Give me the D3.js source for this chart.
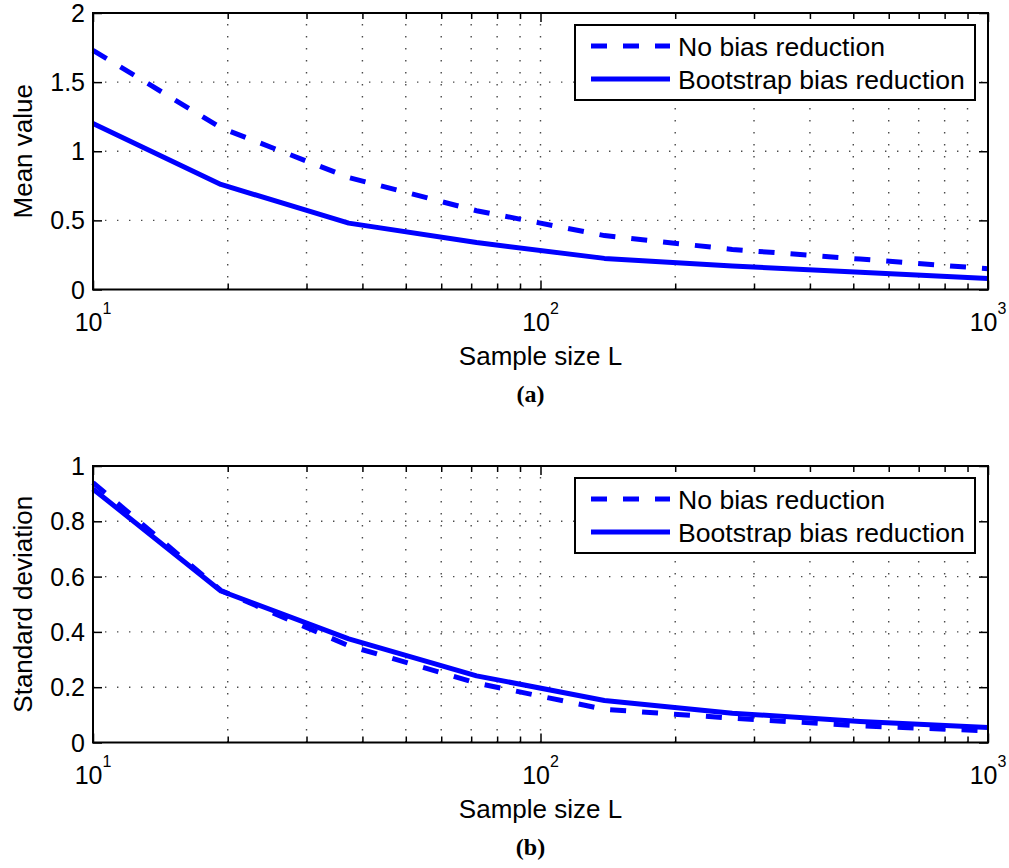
<!DOCTYPE html>
<html>
<head>
<meta charset="utf-8">
<script src="https://cdn.jsdelivr.net/npm/d3@7"></script>
<style>
  html, body { margin: 0; padding: 0; background: #fff; }
  svg { display: block; }
  text { font-family: "Liberation Sans", Arial, Helvetica, sans-serif; fill: #000; }
</style>
</head>
<body>
<svg id="fig" width="1009" height="868"></svg>
<script>
// Sample sizes L (8 log-spaced points between 10 and 1000)
const sampleSizes = [10, 19.31, 37.28, 71.97, 138.95, 268.27, 517.95, 1000];

// Panel (a): mean value of the estimate
const meanNoBias = [1.73, 1.17, 0.81, 0.57, 0.39, 0.29, 0.22, 0.15];
const meanBootstrap = [1.20, 0.76, 0.48, 0.34, 0.225, 0.17, 0.125, 0.08];

// Panel (b): standard deviation of the estimate
const stdNoBias = [0.94, 0.55, 0.35, 0.215, 0.12, 0.088, 0.06, 0.042];
const stdBootstrap = [0.917, 0.548, 0.375, 0.241, 0.152, 0.106, 0.076, 0.054];

// Axis ticks
const xMajorTicks = [10, 100, 1000];
const xMinorTicks = [20, 30, 40, 50, 60, 70, 80, 90, 200, 300, 400, 500, 600, 700, 800, 900];
const meanTicks = [0, 0.5, 1, 1.5, 2];
const meanTickLabels = ["0", "0.5", "1", "1.5", "2"];
const stdTicks = [0, 0.2, 0.4, 0.6, 0.8, 1];
const stdTickLabels = ["0", "0.2", "0.4", "0.6", "0.8", "1"];

const seriesNames = ["No bias reduction", "Bootstrap bias reduction"];
const xLabel = "Sample size L";

const svg = d3.select("#fig");
svg.append("rect").attr("width", 1009).attr("height", 868).attr("fill", "#fff");

const W = 895, H = 276.5;
const BLUE = "#0000ff";
const DASH = "16,16";

function drawPanel(cfg) {
  const g = svg.append("g").attr("transform", `translate(${cfg.left},${cfg.top})`);
  const x = d3.scaleLog().domain([10, 1000]).range([0, W]);
  const y = d3.scaleLinear().domain(cfg.yDomain).range([H, 0]);

  // dotted grid
  const grid = g.append("g").attr("stroke", "#4a4a4a").attr("stroke-width", 1.4)
    .attr("stroke-dasharray", "1.4,10.6").attr("fill", "none");
  grid.selectAll("line.gx").data(xMinorTicks.concat([100])).join("line")
    .attr("x1", d => x(d)).attr("x2", d => x(d)).attr("y1", H).attr("y2", 0);
  grid.selectAll("line.gy").data(cfg.yTicks.slice(1, -1)).join("line")
    .attr("x1", 0).attr("x2", W).attr("y1", d => y(d)).attr("y2", d => y(d));

  // curves
  const line = d3.line().x(d => x(d[0])).y(d => y(d[1]));
  const pts = vals => sampleSizes.map((s, i) => [s, vals[i]]);
  g.append("path").attr("d", line(pts(cfg.dashed))).attr("fill", "none")
    .attr("stroke", BLUE).attr("stroke-width", 5).attr("stroke-dasharray", DASH);
  g.append("path").attr("d", line(pts(cfg.solid))).attr("fill", "none")
    .attr("stroke", BLUE).attr("stroke-width", 5).attr("stroke-linejoin", "round");

  // inward ticks on all four sides
  const tickStyle = sel => {
    sel.select(".domain").remove();
    sel.selectAll(".tick line").attr("stroke", "#000").attr("stroke-width", 1.5);
    sel.selectAll(".tick text").remove();
  };
  g.append("g").attr("transform", `translate(0,${H})`)
    .call(d3.axisBottom(x).tickValues(xMajorTicks).tickSize(-9)).call(tickStyle);
  g.append("g").attr("transform", `translate(0,${H})`)
    .call(d3.axisBottom(x).tickValues(xMinorTicks).tickSize(-6)).call(tickStyle);
  g.append("g").call(d3.axisTop(x).tickValues(xMajorTicks).tickSize(-9)).call(tickStyle);
  g.append("g").call(d3.axisTop(x).tickValues(xMinorTicks).tickSize(-6)).call(tickStyle);
  g.append("g").call(d3.axisLeft(y).tickValues(cfg.yTicks).tickSize(-9)).call(tickStyle);
  g.append("g").attr("transform", `translate(${W},0)`)
    .call(d3.axisRight(y).tickValues(cfg.yTicks).tickSize(-9)).call(tickStyle);

  // box
  g.append("rect").attr("width", W).attr("height", H).attr("fill", "none")
    .attr("stroke", "#000").attr("stroke-width", 2);

  // y tick labels
  g.selectAll("text.yt").data(cfg.yTicks).join("text")
    .attr("x", -8).attr("y", d => y(d) + 9).attr("text-anchor", "end")
    .attr("font-size", 25).text((d, i) => cfg.yTickLabels[i]);

  // x tick labels: 10 with exponent
  const xt = g.selectAll("text.xt").data(xMajorTicks).join("text")
    .attr("x", d => x(d)).attr("y", H + 41).attr("text-anchor", "middle").attr("font-size", 25);
  xt.append("tspan").text("10");
  xt.append("tspan").attr("dy", -17).attr("font-size", 16).text(d => Math.round(Math.log10(d)));

  // axis titles
  g.append("text").attr("x", W / 2).attr("y", H + 75).attr("text-anchor", "middle")
    .attr("font-size", 26).text(xLabel);
  g.append("text").attr("transform", `translate(${-61},${H / 2}) rotate(-90)`)
    .attr("text-anchor", "middle").attr("font-size", 26).text(cfg.yLabel);

  // legend
  const lg = g.append("g").attr("transform", `translate(${W - 413},12)`);
  lg.append("rect").attr("width", 400).attr("height", 75).attr("fill", "#fff")
    .attr("stroke", "#000").attr("stroke-width", 2);
  [[DASH, 21, seriesNames[0]], [null, 54, seriesNames[1]]].forEach(([dash, ly, name]) => {
    lg.append("line").attr("x1", 16).attr("x2", 95).attr("y1", ly).attr("y2", ly)
      .attr("stroke", BLUE).attr("stroke-width", 5).attr("stroke-dasharray", dash);
    lg.append("text").attr("x", 103).attr("y", ly + 9.5).attr("font-size", 26.6).text(name);
  });

  // panel caption
  g.append("text").attr("x", W / 2 - 10).attr("y", H + 112).attr("text-anchor", "middle")
    .attr("font-size", 24).attr("font-weight", "bold")
    .style("font-family", "'Liberation Serif', 'Times New Roman', serif").text(cfg.caption);
}

drawPanel({
  left: 93, top: 13, yDomain: [0, 2], yTicks: meanTicks, yTickLabels: meanTickLabels,
  yLabel: "Mean value", dashed: meanNoBias, solid: meanBootstrap, caption: "(a)"
});
drawPanel({
  left: 93, top: 466, yDomain: [0, 1], yTicks: stdTicks, yTickLabels: stdTickLabels,
  yLabel: "Standard deviation", dashed: stdNoBias, solid: stdBootstrap, caption: "(b)"
});
</script>
</body>
</html>
